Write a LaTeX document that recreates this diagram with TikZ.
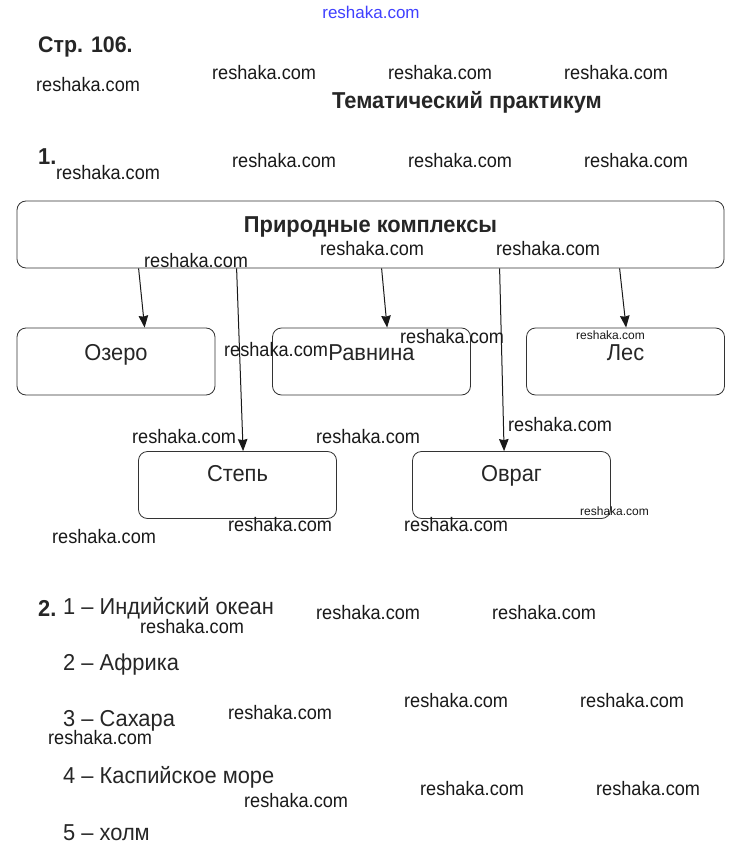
\documentclass[tikz,border=0pt]{standalone}
\usepackage{fontspec}
\setmainfont{Liberation Sans}
\newfontfamily\nar[FakeStretch=0.95]{Liberation Sans}
\newfontfamily\wmf[FakeStretch=0.93]{Liberation Sans}
\usetikzlibrary{arrows.meta}
\tikzset{
  wm/.style={anchor=west, inner sep=0pt, font=\wmf\fontsize{19.5}{19.5}\selectfont, text=black!90},
  wms/.style={anchor=west, inner sep=0pt, font=\fontsize{12}{12}\selectfont, text=black!90},
  txt/.style={anchor=west, inner sep=0pt, font=\nar\fontsize{23}{23}\selectfont, text=black!85},
  head/.style={anchor=west, inner sep=0pt, font=\nar\bfseries\fontsize{23}{23}\selectfont, text=black!85},
  box/.style={draw=black!80, line width=0.8pt, rounded corners=9pt, minimum width=198pt, minimum height=67pt, inner sep=0pt, font=\nar\fontsize{23}{23}\selectfont, text=black!85, text height=16pt, text depth=19pt},
  arr/.style={draw=black!90, line width=1pt, -{Stealth[length=12pt,width=9.5pt,inset=1pt]}}
}
\begin{document}
\begin{tikzpicture}[x=1pt,y=-1pt]
\useasboundingbox[fill=white] (0,0) rectangle (739,861);
% top
\node[anchor=center, inner sep=0pt, font=\fontsize{17}{17}\selectfont, text=blue!75] (top) at (371,12) {reshaka.com};
\node[head, font=\nar\bfseries\fontsize{22.5}{22.5}\selectfont] (str) at (38,47) {Стр. 106.};
\node[wm] (w1) at (36,85) {reshaka.com};
\node[wm] (w2) at (212,73) {reshaka.com};
\node[wm] (w3) at (388,73) {reshaka.com};
\node[wm] (w4) at (564,73) {reshaka.com};
\node[head, anchor=center] (title) at (467,102) {Тематический практикум};
\node[head] (n1) at (38,157) {1.};
\node[wm] (w5) at (56,173) {reshaka.com};
\node[wm] (w6) at (232,161) {reshaka.com};
\node[wm] (w7) at (408,161) {reshaka.com};
\node[wm] (w8) at (584,161) {reshaka.com};
% boxes
\node[box, minimum width=707pt, font=\nar\bfseries\fontsize{23}{23}\selectfont, text depth=21pt] (big) at (370.5,234.5) {Природные комплексы};
\node[box] (ozero) at (116,361.5) {Озеро};
\node[box] (ravn) at (371.5,361.5) {Равнина};
\node[box] (les) at (625.5,361.5) {Лес};
\node[box, text depth=24pt] (step) at (237.5,485) {Степь};
\node[box, text depth=24pt] (ovrag) at (511.5,485) {Овраг};
% arrows
\draw[arr] ([xshift=122pt]big.south west) -- ([xshift=128pt]ozero.north west);
\draw[arr] ([xshift=220pt]big.south west) -- ([xshift=105pt]step.north west);
\draw[arr] ([xshift=365pt]big.south west) -- ([xshift=115pt]ravn.north west);
\draw[arr] ([xshift=483pt]big.south west) -- ([xshift=92pt]ovrag.north west);
\draw[arr] ([xshift=603pt]big.south west) -- ([xshift=100pt]les.north west);
% watermarks around boxes
\node[wm] (w9) at (144,261) {reshaka.com};
\node[wm] (w10) at (320,249) {reshaka.com};
\node[wm] (w11) at (496,249) {reshaka.com};
\node[wm] (w12) at (224,350) {reshaka.com};
\node[wm] (w13) at (400,337) {reshaka.com};
\node[wms] (w14) at (576,335) {reshaka.com};
\node[wm] (w15) at (132,437) {reshaka.com};
\node[wm] (w16) at (316,437) {reshaka.com};
\node[wm] (w17) at (508,425) {reshaka.com};
\node[wms] (w18) at (580,511) {reshaka.com};
\node[wm] (w19) at (228,525) {reshaka.com};
\node[wm] (w20) at (404,525) {reshaka.com};
\node[wm] (w21) at (52,537) {reshaka.com};
% section 2
\node[head] (n2) at (38,608) {2.};
\node[txt] (i1) at (63,608) {1 – Индийский океан};
\node[wm] (w22) at (140,627) {reshaka.com};
\node[wm] (w23) at (316,613) {reshaka.com};
\node[wm] (w24) at (492,613) {reshaka.com};
\node[txt] (i2) at (63,665) {2 – Африка};
\node[wm] (w25) at (404,701) {reshaka.com};
\node[wm] (w26) at (580,701) {reshaka.com};
\node[wm] (w27) at (228,713) {reshaka.com};
\node[txt] (i3) at (63,721) {3 – Сахара};
\node[wm] (w28) at (48,738) {reshaka.com};
\node[txt] (i4) at (63,777) {4 – Каспийское море};
\node[wm] (w29) at (420,789) {reshaka.com};
\node[wm] (w30) at (596,789) {reshaka.com};
\node[wm] (w31) at (244,801) {reshaka.com};
\node[txt] (i5) at (63,833) {5 – холм};
\end{tikzpicture}
\end{document}
